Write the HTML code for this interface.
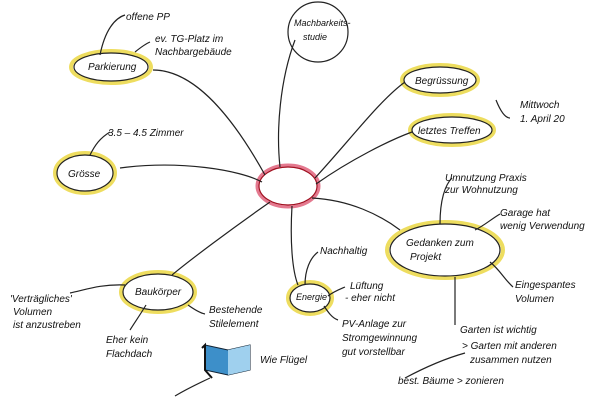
<!DOCTYPE html>
<html><head><meta charset="utf-8"><style>
html,body{margin:0;padding:0;background:#fff;width:600px;height:400px;overflow:hidden}
svg text{font-family:"Liberation Sans",sans-serif;font-size:10px;fill:#111;font-style:italic}
</style></head><body>
<svg width="600" height="400" viewBox="0 0 600 400" xmlns="http://www.w3.org/2000/svg">
<g fill="none" stroke="#e8d22a" stroke-width="4" opacity="0.75">
<ellipse cx="111" cy="67" rx="40" ry="16"/>
<ellipse cx="85" cy="173" rx="30" ry="20"/>
<ellipse cx="440" cy="80" rx="38" ry="15"/>
<ellipse cx="452" cy="130" rx="42" ry="15"/>
<ellipse cx="445" cy="250" rx="58" ry="28"/>
<ellipse cx="310" cy="298" rx="22" ry="16"/>
<ellipse cx="158" cy="292" rx="37" ry="20"/>
</g>
<g fill="none" stroke="#d94060" stroke-width="3" opacity="0.7"><ellipse cx="288" cy="186" rx="31" ry="21"/></g>
<g fill="none" stroke="#222" stroke-width="1.2">
<ellipse cx="288" cy="186" rx="29" ry="19" stroke="#a01020"/>
<ellipse cx="111" cy="67" rx="37" ry="14"/>
<ellipse cx="85" cy="173" rx="28" ry="18"/>
<ellipse cx="318" cy="32" rx="30" ry="30"/>
<ellipse cx="440" cy="80" rx="36" ry="13"/>
<ellipse cx="452" cy="130" rx="40" ry="13"/>
<ellipse cx="445" cy="250" rx="55" ry="26"/>
<ellipse cx="310" cy="298" rx="20" ry="14"/>
<ellipse cx="158" cy="292" rx="35" ry="18"/>
<path d="M153 70 C200 70 240 130 265 175"/>
<path d="M120 168 C180 160 240 170 262 182"/>
<path d="M295 40 C280 80 276 130 280 167"/>
<path d="M315 178 C350 140 380 100 405 82"/>
<path d="M316 184 C350 160 390 140 412 132"/>
<path d="M312 198 C350 200 380 215 400 230"/>
<path d="M270 202 C230 230 190 260 172 275"/>
<path d="M292 206 C290 240 292 270 298 285"/>
<path d="M100 55 C105 30 115 18 125 15"/>
<path d="M135 52 C140 48 145 44 150 42"/>
<path d="M90 155 C95 145 100 138 110 132"/>
<path d="M440 224 C440 200 445 185 452 178"/>
<path d="M475 230 C485 225 490 220 500 214"/>
<path d="M490 262 C500 270 505 280 513 287"/>
<path d="M455 277 C455 300 455 320 455 325"/>
<path d="M496 100 C500 110 505 118 510 118"/>
<path d="M305 285 C305 270 310 258 318 252"/>
<path d="M328 296 C333 292 338 290 345 287"/>
<path d="M324 306 C328 312 332 318 338 320"/>
<path d="M125 285 C100 284 85 290 70 293"/>
<path d="M146 305 C140 315 135 322 130 330"/>
<path d="M188 305 C195 310 200 313 205 314"/>
<path d="M465 353 C440 360 420 370 405 378"/>
<path d="M210 378 C195 385 185 390 175 396"/>
</g>
<g>
<path d="M205 345 L228 350 L250 345 L250 370 L228 375 L205 370 Z" fill="#3d8fc9" stroke="#123" stroke-width="1"/>
<path d="M228 350 L250 345 L250 370 L228 375 Z" fill="#9fd0ee"/>
<path d="M202 348 L205 345 L205 370 L212 378" fill="none" stroke="#111" stroke-width="2"/>
</g>
<text x="88" y="70">Parkierung</text>
<text x="126" y="20">offene PP</text>
<text x="155" y="42">ev. TG-Platz im</text>
<text x="155" y="55">Nachbargebäude</text>
<text x="108" y="136">3.5 – 4.5 Zimmer</text>
<text x="68" y="177">Grösse</text>
<text x="294" y="26" style="font-size:9px">Machbarkeits-</text>
<text x="303" y="40" style="font-size:9px">studie</text>
<text x="415" y="84">Begrüssung</text>
<text x="418" y="134">letztes Treffen</text>
<text x="520" y="108">Mittwoch</text>
<text x="520" y="122">1. April 20</text>
<text x="445" y="181">Umnutzung Praxis</text>
<text x="445" y="193">zur Wohnutzung</text>
<text x="500" y="216">Garage hat</text>
<text x="500" y="229">wenig Verwendung</text>
<text x="406" y="246">Gedanken zum</text>
<text x="410" y="260">Projekt</text>
<text x="515" y="288">Eingespantes</text>
<text x="515" y="302">Volumen</text>
<text x="460" y="333">Garten ist wichtig</text>
<text x="462" y="349">&gt; Garten mit anderen</text>
<text x="470" y="363">zusammen nutzen</text>
<text x="398" y="384">best. Bäume &gt; zonieren</text>
<text x="320" y="254">Nachhaltig</text>
<text x="296" y="300" style="font-size:9px">Energie</text>
<text x="350" y="289">Lüftung</text>
<text x="345" y="301">- eher nicht</text>
<text x="342" y="327">PV-Anlage zur</text>
<text x="342" y="341">Stromgewinnung</text>
<text x="342" y="355">gut vorstellbar</text>
<text x="135" y="295">Baukörper</text>
<text x="10" y="302">'Verträgliches'</text>
<text x="13" y="315">Volumen</text>
<text x="13" y="328">ist anzustreben</text>
<text x="106" y="343">Eher kein</text>
<text x="106" y="357">Flachdach</text>
<text x="209" y="313">Bestehende</text>
<text x="209" y="327">Stilelement</text>
<text x="260" y="363">Wie Flügel</text>
</svg>
</body></html>
